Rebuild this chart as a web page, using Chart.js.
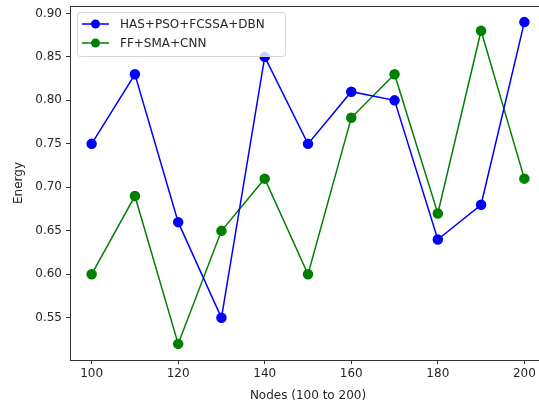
<!DOCTYPE html>
<html>
<head>
<meta charset="utf-8">
<script src="https://cdn.jsdelivr.net/npm/chart.js@4"></script>
<style>
html,body{margin:0;padding:0;overflow:hidden;background:#fff}
#wrap{width:539px;height:404px;overflow:hidden;position:relative}
#wrap canvas{position:absolute;left:0;top:0}
</style>
</head>
<body>
<div id="wrap"><canvas id="myChart" width="620" height="404"></canvas></div>
<script>
// values
const nodes = [100, 110, 120, 130, 140, 150, 160, 170, 180, 190, 200];
const hasPsoFcssaDbn = [0.75, 0.83, 0.66, 0.55, 0.85, 0.75, 0.81, 0.80, 0.64, 0.68, 0.89];
const ffSmaCnn = [0.60, 0.69, 0.52, 0.65, 0.71, 0.60, 0.78, 0.83, 0.67, 0.88, 0.71];
const xTicks = [100, 120, 140, 160, 180, 200];
const yTicks = [0.55, 0.60, 0.65, 0.70, 0.75, 0.80, 0.85, 0.90];

const seriesNames = ['HAS+PSO+FCSSA+DBN', 'FF+SMA+CNN'];
const seriesColors = ['#0000ff', '#008000'];

Chart.defaults.font.family = 'DejaVu Sans';
Chart.defaults.font.size = 12;
Chart.defaults.color = '#262626';

const toPoints = vals => vals.map((v, i) => ({ x: nodes[i], y: v }));

// matplotlib-like spines: left, top, bottom (the right one falls outside the window)
const frame = {
    id: 'frame',
    afterDraw(chart) {
        const a = chart.chartArea, c = chart.ctx;
        c.save();
        c.strokeStyle = '#333';
        c.lineWidth = 1;
        c.beginPath();
        c.moveTo(a.left + 0.5, a.top + 0.5);
        c.lineTo(a.right, a.top + 0.5);
        c.moveTo(a.left + 0.5, a.top);
        c.lineTo(a.left + 0.5, a.bottom + 1);
        c.moveTo(a.left, a.bottom + 0.5);
        c.lineTo(a.right, a.bottom + 0.5);
        c.stroke();
        c.restore();
    }
};

// legend with line + marker, drawn in the upper left
const lineLegend = {
    id: 'lineLegend',
    afterDraw(chart) {
        const c = chart.ctx;
        const x0 = 77, y0 = 12, w = 208, h = 44;
        c.save();
        c.fillStyle = 'rgba(255,255,255,0.8)';
        c.strokeStyle = '#d6d6d6';
        c.lineWidth = 1;
        c.beginPath();
        c.roundRect(x0 + 0.5, y0 + 0.5, w, h, 3);
        c.fill();
        c.stroke();
        seriesNames.forEach((name, i) => {
            const y = 24 + i * 19;
            c.strokeStyle = seriesColors[i];
            c.lineWidth = 1.5;
            c.beginPath();
            c.moveTo(82, y);
            c.lineTo(109, y);
            c.stroke();
            c.fillStyle = seriesColors[i];
            c.beginPath();
            c.arc(95.5, y, 4.5, 0, Math.PI * 2);
            c.fill();
            c.fillStyle = '#262626';
            c.textBaseline = 'middle';
            c.font = '12px "DejaVu Sans"';
            c.fillText(name, 120, y + 1);
        });
        c.restore();
    }
};

const axisGrid = { display: true, drawOnChartArea: false, drawTicks: true, tickLength: 4, color: '#333' };

const ctx = document.getElementById('myChart').getContext('2d');
const myChart = new Chart(ctx, {
    type: 'line',
    data: {
        datasets: [hasPsoFcssaDbn, ffSmaCnn].map((vals, i) => ({
            label: seriesNames[i],
            data: toPoints(vals),
            borderColor: seriesColors[i],
            backgroundColor: seriesColors[i],
            borderWidth: 1.5,
            pointRadius: 4.5,
            pointHoverRadius: 4.5,
            tension: 0
        }))
    },
    options: {
        responsive: false,
        animation: false,
        layout: { padding: { top: 5, right: 74, left: 0, bottom: 0 } },
        plugins: { legend: { display: false }, tooltip: { enabled: false } },
        scales: {
            x: {
                type: 'linear',
                min: 95,
                max: 205,
                grid: axisGrid,
                border: { display: false },
                ticks: { padding: 3 },
                afterBuildTicks: s => { s.ticks = xTicks.map(v => ({ value: v })); },
                afterFit: s => { s.height = 44; s.paddingLeft = 0; s.paddingRight = 0; },
                title: { display: true, text: 'Nodes (100 to 200)', padding: { top: 0, bottom: 1 } }
            },
            y: {
                min: 0.5015,
                max: 0.9085,
                grid: axisGrid,
                border: { display: false },
                ticks: { padding: 4, callback: v => v.toFixed(2) },
                afterBuildTicks: s => { s.ticks = yTicks.map(v => ({ value: v })); },
                afterFit: s => { s.width = 70; s.paddingTop = 0; s.paddingBottom = 0; },
                title: { display: true, text: 'Energy', padding: { top: 12, bottom: 0 } }
            }
        }
    },
    plugins: [frame, lineLegend]
});
</script>
</body>
</html>
